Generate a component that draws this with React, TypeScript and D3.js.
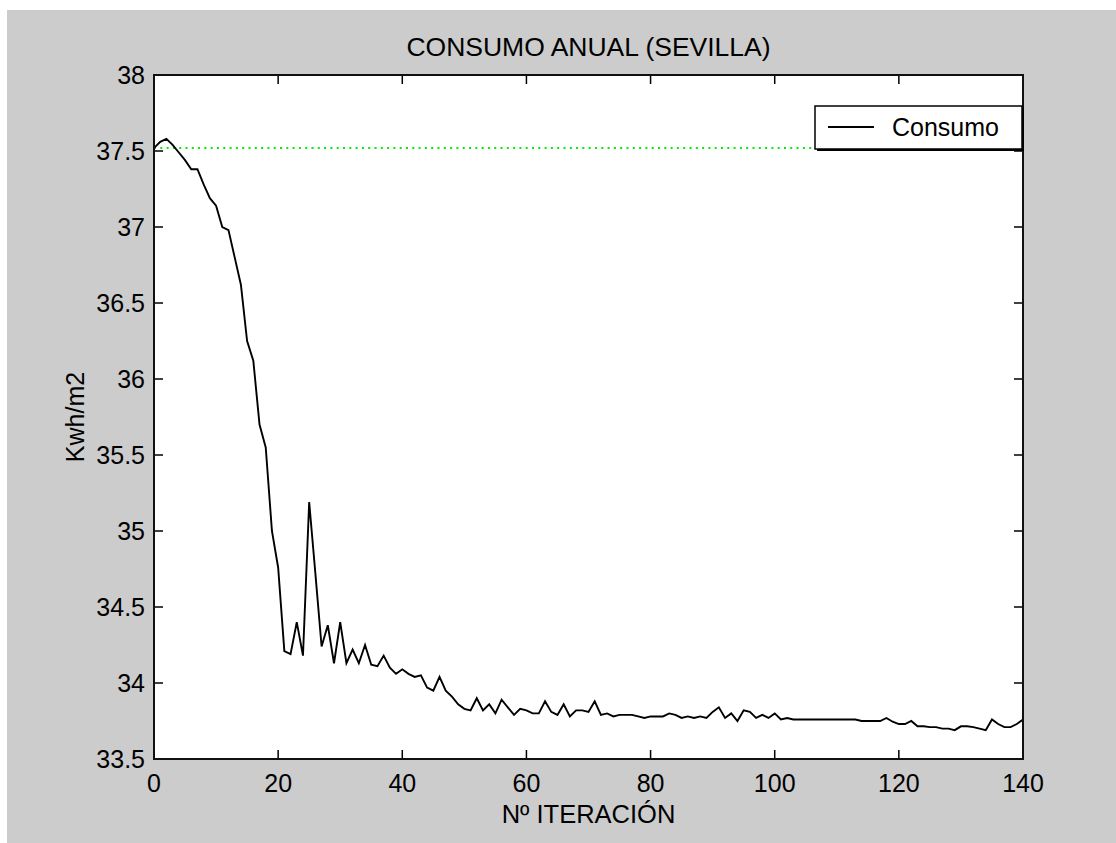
import React from "react";
import * as d3 from "d3";

// Annual consumption per iteration (kWh/m2), iterations 0..140
const iterations: number[] = Array.from({ length: 141 }, (_, i) => i);
const consumo: number[] = [
  37.52, 37.56, 37.58, 37.54, 37.49, 37.44, 37.38, 37.38, 37.28, 37.19,
  37.14, 37.0, 36.98, 36.8, 36.62, 36.25, 36.12, 35.7, 35.55, 35.0,
  34.76, 34.21, 34.19, 34.4, 34.18, 35.19, 34.72, 34.24, 34.38, 34.13,
  34.4, 34.13, 34.22, 34.13, 34.25, 34.12, 34.11, 34.18, 34.1, 34.06,
  34.09, 34.06, 34.04, 34.05, 33.97, 33.95, 34.04, 33.95, 33.91, 33.86,
  33.83, 33.82, 33.9, 33.82, 33.86, 33.8, 33.89, 33.84, 33.79, 33.83,
  33.82, 33.8, 33.8, 33.88, 33.81, 33.79, 33.86, 33.78, 33.82, 33.82,
  33.81, 33.88, 33.79, 33.8, 33.78, 33.79, 33.79, 33.79, 33.78, 33.77,
  33.78, 33.78, 33.78, 33.8, 33.79, 33.77, 33.78, 33.77, 33.78, 33.77,
  33.81, 33.84, 33.77, 33.8, 33.75, 33.82, 33.81, 33.77, 33.79, 33.77,
  33.8, 33.76, 33.77, 33.76, 33.76, 33.76, 33.76, 33.76, 33.76, 33.76,
  33.76, 33.76, 33.76, 33.76, 33.75, 33.75, 33.75, 33.75, 33.77, 33.745,
  33.73, 33.73, 33.75, 33.715, 33.715, 33.71, 33.71, 33.7, 33.7, 33.69,
  33.715, 33.715, 33.71, 33.7, 33.69, 33.76, 33.73, 33.71, 33.71, 33.73,
  33.76,
];
const referenceLevel = 37.52;

const xTicks: number[] = [0, 20, 40, 60, 80, 100, 120, 140];
const yTicks: number[] = [33.5, 34, 34.5, 35, 35.5, 36, 36.5, 37, 37.5, 38];

const title = "CONSUMO ANUAL (SEVILLA)";
const xLabel = "Nº ITERACIÓN";
const yLabel = "Kwh/m2";
const seriesName = "Consumo";

const W = 1116;
const H = 843;
const FONT = "'Liberation Sans', Arial, Helvetica, sans-serif";

export default function App() {
  const left = 154;
  const right = 1023;
  const top = 75;
  const bottom = 759;

  const x = d3.scaleLinear().domain([0, 140]).range([left, right]);
  const y = d3.scaleLinear().domain([33.5, 38]).range([bottom, top]);

  const line = d3
    .line<number>()
    .x((_, i) => x(iterations[i]))
    .y((d) => y(d));

  const tickLen = 9;
  const fmt = (v: number) => (Number.isInteger(v) ? String(v) : v.toFixed(1));

  return (
    <svg
      width={W}
      height={H}
      style={{ position: "absolute", left: 0, top: 0, display: "block" }}
      fontFamily={FONT}
    >
      <rect x={0} y={0} width={W} height={H} fill="#ffffff" />
      <rect x={7} y={10} width={W - 7} height={H - 10} fill="#cccccc" />

      {/* plot area */}
      <rect x={left} y={top} width={right - left} height={bottom - top} fill="#ffffff" />

      <defs>
        <clipPath id="plotClip">
          <rect x={left} y={top} width={right - left} height={bottom - top} />
        </clipPath>
      </defs>

      <g clipPath="url(#plotClip)">
        <line
          x1={x(0)}
          x2={x(140)}
          y1={y(referenceLevel)}
          y2={y(referenceLevel)}
          stroke="#00ee00"
          strokeWidth={2}
          strokeDasharray="2 4.3"
        />
        <path d={line(consumo) || ""} fill="none" stroke="#000" strokeWidth={1.9} />
      </g>

      {/* ticks on all four sides, pointing inward */}
      {xTicks.map((t) => (
        <g key={"xt" + t}>
          <line x1={x(t)} x2={x(t)} y1={bottom} y2={bottom - tickLen} stroke="#000" strokeWidth={1.5} />
          <line x1={x(t)} x2={x(t)} y1={top} y2={top + tickLen} stroke="#000" strokeWidth={1.5} />
          <text x={x(t)} y={792} textAnchor="middle" fontSize={25} fill="#000">
            {fmt(t)}
          </text>
        </g>
      ))}
      {yTicks.map((t) => (
        <g key={"yt" + t}>
          <line x1={left} x2={left + tickLen} y1={y(t)} y2={y(t)} stroke="#000" strokeWidth={1.5} />
          <line x1={right} x2={right - tickLen} y1={y(t)} y2={y(t)} stroke="#000" strokeWidth={1.5} />
          <text x={145} y={y(t) + 9} textAnchor="end" fontSize={25} fill="#000">
            {fmt(t)}
          </text>
        </g>
      ))}

      <rect
        x={left}
        y={top}
        width={right - left}
        height={bottom - top}
        fill="none"
        stroke="#111"
        strokeWidth={2}
      />

      {/* legend */}
      <rect x={817} y={108} width={207} height={43} fill="#000" />
      <rect x={815} y={106} width={207} height={43} fill="#fff" stroke="#000" strokeWidth={1.5} />
      <line x1={828} x2={874} y1={127} y2={127} stroke="#000" strokeWidth={1.9} />
      <text x={892} y={136} fontSize={25} fill="#000">
        {seriesName}
      </text>

      <text x={(left + right) / 2} y={56} textAnchor="middle" fontSize={26.5} fill="#000">
        {title}
      </text>
      <text x={(left + right) / 2} y={823} textAnchor="middle" fontSize={25.5} fill="#000">
        {xLabel}
      </text>
      <text
        transform={`translate(84, ${(top + bottom) / 2}) rotate(-90)`}
        textAnchor="middle"
        fontSize={25}
        fill="#000"
      >
        {yLabel}
      </text>
    </svg>
  );
}
